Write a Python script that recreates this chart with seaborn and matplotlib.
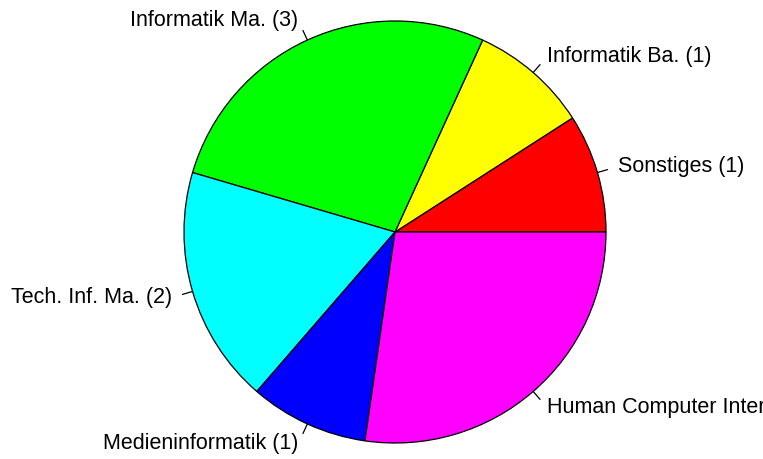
import numpy as np
import matplotlib
matplotlib.use("Agg")
import matplotlib.pyplot as plt
import seaborn as sns

studiengang = ["Sonstiges", "Informatik Ba.", "Informatik Ma.", "Tech. Inf. Ma.",
               "Medieninformatik", "Human Computer Interaction"]
anzahl = [1, 1, 3, 2, 1, 3]
farben = ["#FF0000", "#FFFF00", "#00FF00", "#00FFFF", "#0000FF", "#FF00FF"]

sns.set_style("white")
plt.rcParams['font.family'] = ['Liberation Sans', 'DejaVu Sans']

W, H = 763, 459
cx, cy, r = 395, 232, 211
fig = plt.figure(figsize=(W / 100, H / 100), dpi=100)
ax = fig.add_axes([0, 0, 1, 1])

wedges, _ = ax.pie(anzahl, colors=farben, startangle=0, counterclock=True, radius=1,
                   wedgeprops=dict(edgecolor="black", linewidth=0.9))

# labels like R's pie(): tick from 1.0 to 1.05, text at 1.1
tot = sum(anzahl)
cum = np.cumsum([0] + anzahl)
for i, lab in enumerate(studiengang):
    mid = np.deg2rad(360 * (cum[i] + cum[i + 1]) / 2 / tot)
    c, s = np.cos(mid), np.sin(mid)
    ax.plot([c, 1.05 * c], [s, 1.05 * s], color="black", lw=0.9)
    ax.text(1.1 * c, 1.1 * s, f"{lab} ({anzahl[i]})", ha="left" if c >= 0 else "right",
            va="center", fontsize=15.5, color="black")

ax.set_xlim(-cx / r, (W - cx) / r)
ax.set_ylim(-(H - cy) / r, cy / r)
ax.set_aspect("equal")
ax.axis("off")

fig.savefig("out.png", dpi=100)
